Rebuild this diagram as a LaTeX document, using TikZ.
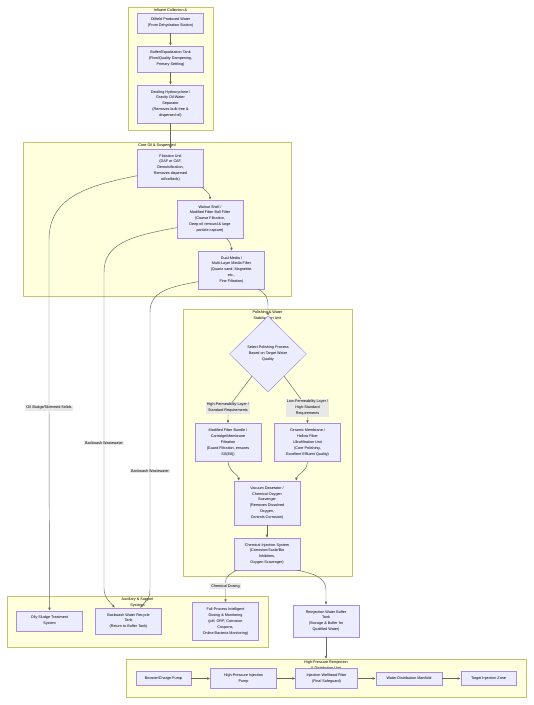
\documentclass[tikz,border=0pt]{standalone}
\usepackage{fontspec}
\setmainfont{Liberation Sans}
\usepackage{xcolor}
\usepackage{tikz}
\usetikzlibrary{positioning,shapes.geometric,arrows.meta}
\definecolor{boxfill}{HTML}{ECECFF}
\definecolor{boxline}{HTML}{9370DB}
\definecolor{groupfill}{HTML}{FFFFDE}
\definecolor{groupline}{HTML}{AAAA33}
\definecolor{flowline}{HTML}{666666}
\definecolor{tagfill}{HTML}{E8E8E8}

\begin{document}
\begin{tikzpicture}[x=0.03cm, y=-0.03cm,
  every node/.style={font=\fontsize{3.2}{5.1}\selectfont, align=center},
  unit/.style={draw=boxline!80, fill=boxfill, line width=0.4pt, minimum width=1.98cm, inner xsep=2pt, inner ysep=4.5pt},
  choice/.style={diamond, draw=boxline!80, fill=boxfill, line width=0.4pt, minimum width=2.31cm, minimum height=2.28cm, inner sep=0pt},
  group/.style={draw=groupline!70, fill=groupfill, line width=0.35pt},
  grouptitle/.style={anchor=north, inner sep=1pt},
  flow/.style={draw=flowline, line width=0.4pt, ->},
  tag/.style={fill=tagfill, inner sep=0.8pt},
  >={Latex[length=2.6pt,width=2.2pt]}]
\useasboundingbox (0,0) rectangle (533,705);

\draw[group] (128,7) rectangle (213,130);
\draw[group] (23,142) rectangle (291,296);
\draw[group] (183,309) rectangle (352,576);
\draw[group] (7,596) rectangle (268,647);
\draw[group] (126,659) rectangle (526,697);
\node[grouptitle] (tinflu) at (170.5,7.5) {Influent Collection \&};
\node[grouptitle] (tcore) at (157,142.5) {Core Oil \& Suspended};
\node[grouptitle] (tpolish) at (267.5,309.5) {Polishing \& Water\\Stabilization Unit};
\node[grouptitle] (taux) at (137.5,596.5) {Auxiliary \& Support\\Systems};
\node[grouptitle] (thp) at (326,659.5) {High-Pressure Reinjection\\\& Distribution Unit};
\coordinate (hptop) at (326,659);

\node[unit] (src) at (170.5,23) {Oilfield Produced Water\\(From Dehydration Station)};
\node[unit] (buf) at (170.5,59) {Buffer/Equalization Tank\\(Flow/Quality Dampening,\\Primary Settling)};
\node[unit] (deoil) at (170.5,104) {Deoiling Hydrocyclone /\\Gravity Oil-Water\\Separator\\(Removes bulk free \&\\dispersed oil)};
\node[unit] (flot) at (170.5,168) {Flotation Unit\\(DAF or CAF,\\Demulsification,\\Removes dispersed\\oil/colloids)};
\node[unit] (walnut) at (210,219) {Walnut Shell /\\Modified Fiber Ball Filter\\(Coarse Filtration,\\Deep oil removal \& large\\particle capture)};
\node[unit] (dual) at (231.5,270) {Dual-Media /\\Multi-Layer Media Filter\\(Quartz sand, Magnetite,\\etc.,\\Fine Filtration)};
\node[choice] (sel) at (268,354) {Select Polishing Process\\Based on Target Water\\Quality};
\node[unit] (mfb) at (228,442.5) {Modified Fiber Bundle /\\Cartridge/Membrane\\Filtration\\(Guard Filtration, ensures\\SS(E8))};
\node[unit] (cer) at (307.5,442.5) {Ceramic Membrane /\\Hollow Fiber\\Ultrafiltration Unit\\(Core Polishing,\\Excellent Effluent Quality)};
\node[unit] (vac) at (267,503) {Vacuum Deaerator /\\Chemical Oxygen\\Scavenger\\(Removes Dissolved\\Oxygen,\\Controls Corrosion)};
\node[unit] (chem) at (267,554) {Chemical Injection System\\(Corrosion/Scale/Bio\\Inhibitors,\\Oxygen Scavenger)};
\node[unit] (oily) at (49.5,621) {Oily Sludge Treatment\\System};
\node[unit] (bw) at (128.5,621) {Backwash Water Recycle\\Tank\\(Return to Buffer Tank)};
\node[unit] (full) at (225.5,621.5) {Full-Process Intelligent\\Dosing \& Monitoring\\(pH, ORP, Corrosion\\Coupons,\\Online Bacteria Monitoring)};
\node[unit] (rbuf) at (326,621) {Reinjection Water Buffer\\Tank\\(Storage \& Buffer for\\Qualified Water)};
\node[unit, minimum width=1.66cm] (boost) at (163.5,678.5) {Booster/Charge Pump};
\node[unit] (hpp) at (243.5,678.5) {High-Pressure Injection\\Pump};
\node[unit, minimum width=1.85cm] (whf) at (326.5,678.5) {Injection Wellhead Filter\\(Final Safeguard)};
\node[unit] (mani) at (409,678.5) {Water Distribution Manifold};
\node[unit, minimum width=1.66cm] (tzone) at (488.5,678.5) {Target Injection Zone};

\draw[flow] (src) -- (buf);
\draw[flow] (buf) -- (deoil);
\draw[flow] (deoil) -- (flot);
\draw[flow] ([xshift=-0.05cm]flot.south east) .. controls (207,192) and (210,194) .. (walnut.north);
\draw[flow] ([xshift=0.5cm]walnut.south) .. controls (230,243) and (231.5,245) .. (dual.north);
\draw[flow] ([xshift=0.8cm]dual.south) .. controls (265,293) and (268,297) .. (268,305) -- (sel.north);
\draw[flow] (sel.234) -- (228,408) node[tag] {High-Permeability Layer /\\Standard Requirements} -- (mfb);
\draw[flow] (sel.-54) -- (307.5,408) node[tag] {Low-Permeability Layer /\\High-Standard\\Requirements} -- (cer);
\draw[flow] (mfb.south) .. controls (229,472) and (238,474) .. ([xshift=-0.84cm]vac.north);
\draw[flow] (cer.south) .. controls (307,472) and (297,474) .. ([xshift=0.87cm]vac.north);
\draw[flow] (vac) -- (chem);
\draw[flow] ([xshift=-0.9cm]chem.south) .. controls (229,574) and (225.5,577) .. (225.5,582) -- node[tag, pos=0.2] {Chemical Dosing} (full.north);
\draw[flow] ([xshift=0.9cm]chem.south) .. controls (312,573) and (326,577) .. (326,590) -- (rbuf.north);
\draw[flow] (rbuf) -- (hptop);
\draw[flow] ([yshift=-0.23cm]flot.west) .. controls (85,186) and (49,198) .. (49,240) -- (49,408) node[tag] {Oil Sludge/Skimmed Solids} -- (oily);
\draw[flow] ([yshift=-0.26cm]walnut.west) .. controls (130,236) and (104,244) .. (104,272) -- (104,443) node[tag] {Backwash Wastewater} -- (104,588) .. controls (104,598) and (110,602) .. ([xshift=-0.41cm]bw.north);
\draw[flow] ([yshift=-0.35cm]dual.west) .. controls (168,287) and (150,292) .. (150,312) -- (150,471) node[tag] {Backwash Wastewater} -- (150,590) .. controls (150,599) and (145,602) .. ([xshift=0.35cm]bw.north);
\draw[flow] (boost) -- (hpp);
\draw[flow] (hpp) -- (whf);
\draw[flow] (whf) -- (mani);
\draw[flow] (mani) -- (tzone);
\end{tikzpicture}
\end{document}
